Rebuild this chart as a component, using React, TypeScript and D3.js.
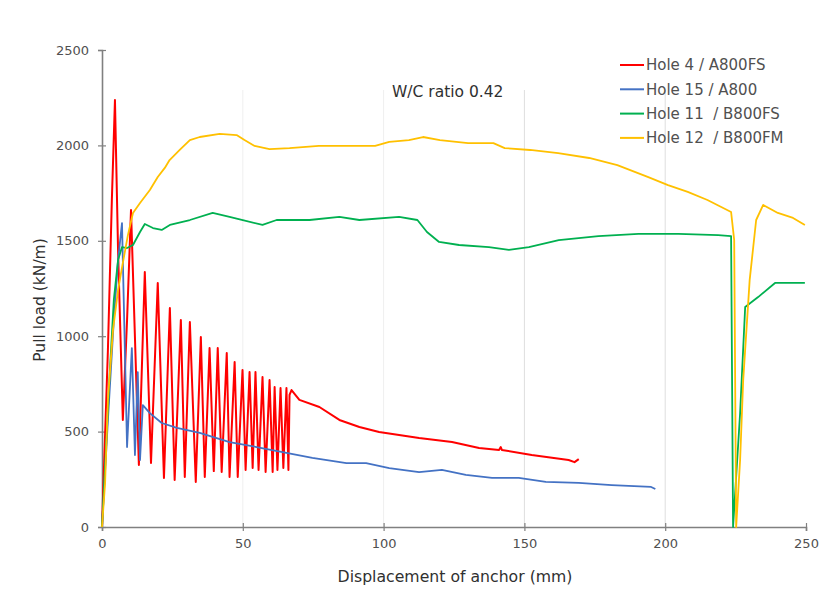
import * as d3 from "d3";
import { useEffect, useRef } from "react";

// displacement (mm), pull load (kN/m)
const hole4: [number, number][] = [
  [0, 0], [2.1, 928], [3.5, 1714], [4.6, 2238], [5.7, 1452], [7.4, 561], [8.9, 1085], [10.3, 1661],
  [13.1, 325], [15.2, 1336], [17.4, 335], [19.8, 1279], [22, 257], [24.1, 1148], [25.8, 246],
  [28, 1085], [29.4, 262], [31.2, 1074], [33.3, 236], [35.1, 996], [36.5, 262], [38.2, 938],
  [39.7, 293], [41.1, 938], [42.5, 288], [44.3, 912], [45.3, 262], [47.1, 865], [48.2, 262],
  [49.9, 823], [51, 299], [52.4, 812], [53.5, 309], [54.5, 812], [55.6, 299], [57, 786],
  [58.1, 288], [59.5, 770], [60.6, 288], [61.3, 734], [62.3, 299], [63.4, 728], [64.4, 309],
  [65.5, 728], [66.2, 299], [66.6, 692], [67.3, 718], [70.1, 666], [77.2, 629], [84.3, 561],
  [91.4, 524], [98.4, 498], [112.6, 466], [124.3, 445], [133.9, 414], [141, 404], [141.6, 419],
  [142, 404], [152.6, 377], [165.7, 351], [167.8, 340], [169.3, 356],
];

const hole15: [number, number][] = [
  [0, 0], [2.1, 561], [4.2, 1085], [5.7, 1399], [7.1, 1593], [8.9, 419], [10.6, 938], [11.7, 377],
  [12.7, 812], [13.5, 351], [14.5, 639], [17, 597], [21.2, 545], [26.6, 519], [34.7, 493],
  [45.3, 445], [54.9, 419], [64.1, 393], [74.7, 362], [86.8, 335], [93.8, 335], [102, 309],
  [112.6, 288], [120.7, 299], [129.2, 273], [138.5, 257], [148, 257], [157.6, 236], [169.3, 231],
  [181, 220], [195, 210], [196.5, 199],
];

const hole11: [number, number][] = [
  [0, 0], [1.4, 404], [2.8, 823], [4.2, 1190], [5.7, 1399], [7.1, 1467], [8.9, 1462], [11, 1478],
  [13.5, 1546], [15.2, 1588], [18.1, 1567], [21.2, 1557], [24.1, 1583], [31.2, 1609], [39.3, 1646],
  [45.3, 1625], [50, 1609], [57, 1583], [62, 1609], [73.7, 1609], [84.3, 1625], [91.4, 1609],
  [105.5, 1625], [112, 1609], [115.4, 1546], [119.7, 1494], [126.8, 1478], [137.4, 1467],
  [144.5, 1452], [151.6, 1467], [162.2, 1504], [176.3, 1525], [190.5, 1536], [204.7, 1536],
  [218.8, 1530], [223.4, 1525], [224.1, 0], [226.6, 597], [228.4, 1153], [233, 1205],
  [239, 1279], [249.6, 1279],
];

const hole12: [number, number][] = [
  [0, 0], [1.1, 231], [2.1, 666], [3.9, 1032], [5.7, 1242], [7.4, 1384], [9.2, 1530], [11, 1646],
  [13.5, 1698], [17, 1766], [19.8, 1834], [22.3, 1882], [24, 1923], [27.6, 1976], [31.2, 2028],
  [34.7, 2044], [41.8, 2060], [47.8, 2054], [50.6, 2028], [54.2, 1997], [59.5, 1981], [66.6, 1986],
  [77, 1997], [88, 1997], [97, 1997], [102, 2018], [109, 2028], [114, 2044], [120, 2028],
  [130, 2012], [139, 2012], [143, 1986], [152, 1976], [162, 1960], [173, 1934], [183, 1897],
  [194, 1834], [201, 1792], [208, 1756], [215, 1714], [223.4, 1651], [224.5, 1504], [225.2, 0],
  [226.6, 351], [227.7, 770], [230, 1295], [232.3, 1609], [234.8, 1688], [240, 1646],
  [245.4, 1620], [249.6, 1583],
];

const seriesNames = ["Hole 4 / A800FS", "Hole 15 / A800", "Hole 11  / B800FS", "Hole 12  / B800FM"];
const seriesColors = ["#ff0000", "#4472c4", "#00b050", "#ffc000"];
const seriesData = [hole4, hole15, hole11, hole12];
const xTicks = [0, 50, 100, 150, 200, 250];
const yTicks = [0, 500, 1000, 1500, 2000, 2500];
const gridX = [50, 100, 150, 200];

const W = 833;
const H = 594;
const font = "'DejaVu Sans', sans-serif";

export default function App() {
  const ref = useRef<SVGSVGElement>(null);

  useEffect(() => {
    const svg = d3.select(ref.current);
    svg.selectAll("*").remove();

    const x = d3.scaleLinear().domain([0, 250]).range([102, 806]);
    const y = d3.scaleLinear().domain([0, 2500]).range([527, 50]);

    // faint vertical grid
    svg.append("g")
      .selectAll("line")
      .data(gridX)
      .enter()
      .append("line")
      .attr("x1", (d) => x(d))
      .attr("x2", (d) => x(d))
      .attr("y1", y(2500) + 40)
      .attr("y2", y(0))
      .attr("stroke", (d) => (d >= 150 ? "#dedede" : "#efefef"))
      .attr("stroke-width", 1);

    const xAxis = svg.append("g")
      .attr("transform", `translate(0,${y(0)})`)
      .call(d3.axisBottom(x).tickValues(xTicks).tickSize(4).tickPadding(8).tickFormat(d3.format("d")));
    const yAxis = svg.append("g")
      .attr("transform", `translate(${x(0)},0)`)
      .call(d3.axisLeft(y).tickValues(yTicks).tickSize(4).tickPadding(9).tickFormat(d3.format("d")));

    [xAxis, yAxis].forEach((g) => {
      g.select(".domain").attr("stroke", "#808080").attr("stroke-width", 1.6);
      g.selectAll(".tick line").attr("stroke", "#808080").attr("stroke-width", 1.2);
      g.selectAll(".tick text")
        .attr("fill", "#505050")
        .style("font-family", font)
        .style("font-size", "13px");
    });
    xAxis.selectAll(".tick line").attr("y1", -4);
    yAxis.selectAll(".tick line").attr("x1", 4);

    const line = d3
      .line<[number, number]>()
      .x((d) => x(d[0]))
      .y((d) => y(d[1]));

    svg.append("g")
      .selectAll("path")
      .data(seriesData)
      .enter()
      .append("path")
      .attr("d", (d) => line(d))
      .attr("fill", "none")
      .attr("stroke", (_, i) => seriesColors[i])
      .attr("stroke-width", (_, i) => (i === 0 ? 2 : 1.8))
      .attr("stroke-linejoin", "round");

    const legend = svg.append("g");
    seriesNames.forEach((name, i) => {
      const ly = 65 + i * 24.3;
      legend.append("line")
        .attr("x1", 620).attr("x2", 644)
        .attr("y1", ly).attr("y2", ly)
        .attr("stroke", seriesColors[i])
        .attr("stroke-width", 2);
      legend.append("text")
        .attr("x", 646).attr("y", ly)
        .attr("dy", "0.35em")
        .attr("fill", "#505050")
        .style("font-family", font)
        .style("font-size", "15px")
        .style("white-space", "pre")
        .text(name);
    });

    svg.append("text")
      .attr("x", 392).attr("y", 92)
      .attr("dy", "0.35em")
      .attr("fill", "#303030")
      .style("font-family", font)
      .style("font-size", "15.5px")
      .text("W/C ratio 0.42");

    svg.append("text")
      .attr("x", 455).attr("y", 577)
      .attr("dy", "0.35em")
      .attr("text-anchor", "middle")
      .attr("fill", "#303030")
      .style("font-family", font)
      .style("font-size", "15.7px")
      .text("Displacement of anchor (mm)");

    svg.append("text")
      .attr("transform", `translate(40,${300}) rotate(-90)`)
      .attr("dy", "0.35em")
      .attr("text-anchor", "middle")
      .attr("fill", "#303030")
      .style("font-family", font)
      .style("font-size", "15.5px")
      .text("Pull load (kN/m)");
  }, []);

  return (
    <svg
      ref={ref}
      width={W}
      height={H}
      style={{ display: "block", position: "absolute", left: 0, top: 0, background: "#fff" }}
    />
  );
}
